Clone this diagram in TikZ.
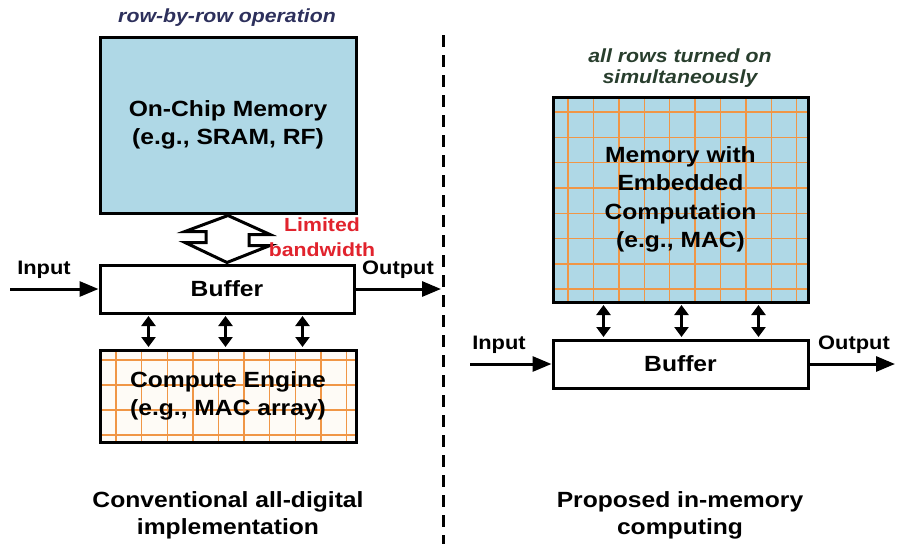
\documentclass[tikz,border=0pt]{standalone}
\usepackage{fontspec}
\setmainfont{Liberation Sans}[FakeStretch=1.12]
\usetikzlibrary{arrows.meta,calc}
\definecolor{memblue}{RGB}{175,216,230}
\definecolor{gridor}{RGB}{240,150,70}
\definecolor{bwred}{RGB}{225,35,45}
\definecolor{navyt}{RGB}{45,48,92}
\definecolor{dkgreen}{RGB}{40,62,45}
\definecolor{cefill}{RGB}{254,251,246}
\begin{document}
\begin{tikzpicture}[x=1pt,y=-1pt,
  box/.style={draw=black, line width=3pt, rectangle, inner sep=0pt, align=center,
    font=\bfseries\fontsize{22}{28.5}\selectfont},
  gridln/.style={draw=gridor, line width=1.4pt},
  gridL/.style={path picture={
    \foreach \i in {0,...,10}{\draw[gridln] ($(path picture bounding box.north west)+(16+\i*25.6,0)$) -- ++(0,300);}
    \foreach \j in {0,...,5}{\draw[gridln] ($(path picture bounding box.north west)+(0,10+\j*25)$) -- ++(400,0);}}},
  gridR/.style={path picture={
    \foreach \i in {0,...,10}{\draw[gridln] ($(path picture bounding box.north west)+(15+\i*25.4,0)$) -- ++(0,300);}
    \foreach \j in {0,...,8}{\draw[gridln] ($(path picture bounding box.north west)+(0,15+\j*25.3)$) -- ++(400,0);}}},
  arr/.style={line width=3pt, -{Triangle[length=19pt,width=15pt]}},
  darr/.style={line width=3pt, {Triangle[length=10pt,width=14pt]}-{Triangle[length=10pt,width=14pt]}},
  hollow/.style={line width=3pt, fill=white, line join=miter},
  lbl/.style={font=\bfseries\fontsize{19.5}{22}\selectfont, inner sep=0pt},
  note/.style={font=\bfseries\itshape\fontsize{19}{21}\selectfont, inner sep=0pt, align=center},
  captext/.style={font=\bfseries\fontsize{22}{27}\selectfont, inner sep=0pt, align=center}
]
\useasboundingbox (0,0) rectangle (898,544);

% ---------- left side ----------
\node[note, text=navyt] (rowop) at (227,18) {row-by-row operation};
\node[box, fill=memblue, minimum width=256pt, minimum height=176pt] (meml) at (228,125)
  {On-Chip Memory\\(e.g., SRAM, RF)};
\node[box, fill=white, minimum width=254pt, minimum height=48pt] (bufl) at (227,289) {Buffer};
\node[box, fill=cefill, gridL, minimum width=256pt, minimum height=92pt] (ce) at (228,396)
  {Compute Engine\\(e.g., MAC array)};

\draw[hollow] ($(meml.south)+(0,1)$) -- ++(42,19) -- ++(-21,0) -- ++(0,11) -- ++(21,0)
  -- ($(bufl.north)+(0,-1)$) -- ++(-42,-20) -- ++(21,0) -- ++(0,-11) -- ++(-21,0) -- cycle;

\node[lbl, text=bwred, align=center, font=\bfseries\fontsize{19}{25}\selectfont] (lim) at (322,237) {Limited\\bandwidth};

\coordinate (inL) at (10,289);
\coordinate (outL) at (441,289);
\draw[arr] (inL) -- (bufl.west);
\draw[arr] (bufl.east) -- (outL);
\node[lbl] (inLt) at (44,270) {Input};
\node[lbl] (outLt) at (398,270) {Output};

\foreach \dx in {50,127,204}{
  \draw[darr] ($(bufl.south west)+(\dx,1.5)$) -- ($(ce.north west)+(\dx,-1.5)$);
}

\node[captext] (capL) at (228,515) {Conventional all-digital\\implementation};

% ---------- divider ----------
\draw[line width=3pt, dash pattern=on 12pt off 8pt] (443,35) -- (443,544);

% ---------- right side ----------
\node[note, text=dkgreen] (allrows) at (680,68) {all rows turned on\\simultaneously};
\node[box, fill=memblue, gridR, minimum width=255pt, minimum height=205pt] (memr) at (680.5,199.5)
  {Memory with\\Embedded\\Computation\\(e.g., MAC)};
\node[box, fill=white, minimum width=255pt, minimum height=48pt] (bufr) at (680.5,364) {Buffer};

\foreach \dx in {52,130,207}{
  \draw[darr] ($(memr.south west)+(\dx,1.5)$) -- ($(bufr.north west)+(\dx,-1.5)$);
}

\coordinate (inR) at (470,364);
\coordinate (outR) at (895,364);
\draw[arr] (inR) -- (bufr.west);
\draw[arr] (bufr.east) -- (outR);
\node[lbl] (inRt) at (499,345) {Input};
\node[lbl] (outRt) at (854,345) {Output};

\node[captext] (capR) at (680,515) {Proposed in-memory\\computing};
\end{tikzpicture}
\end{document}
